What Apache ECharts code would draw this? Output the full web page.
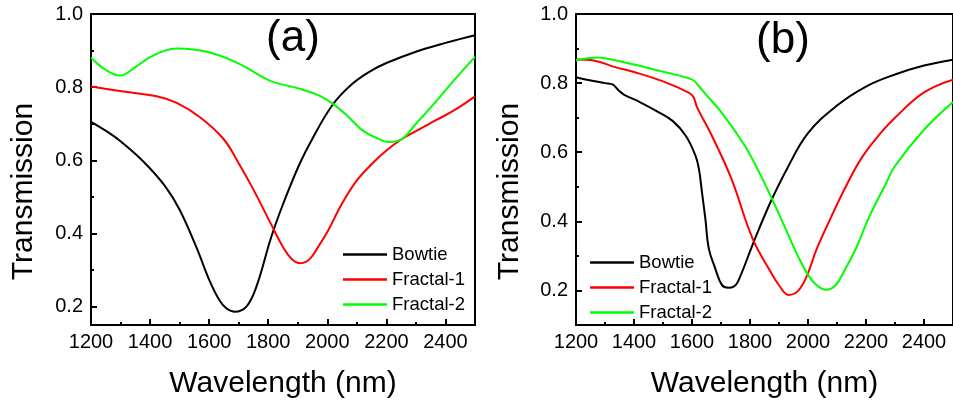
<!DOCTYPE html>
<html><head><meta charset="utf-8">
<script src="https://cdn.jsdelivr.net/npm/echarts@6/dist/echarts.min.js"></script>
<style>html,body{margin:0;padding:0;background:#fff}#c{width:953px;height:404px}</style>
</head><body><div id="c"></div>
<script>
const seriesNames = ['Bowtie', 'Fractal-1', 'Fractal-2'];
const seriesColors = ['#000000', '#ff0000', '#00ff00'];
const xTicks = [1200, 1400, 1600, 1800, 2000, 2200, 2400];
const xMinorTicks = [1300, 1500, 1700, 1900, 2100, 2300];
const yTicks = [0.2, 0.4, 0.6, 0.8, 1.0];
const yMinorTicks = [0.3, 0.5, 0.7, 0.9];
const panelLabels = ['(a)', '(b)'];
const xTitle = 'Wavelength (nm)';
const yTitle = 'Transmission';

// Panel (a)
const bowtieA = [[1200,0.705],[1265,0.673],[1300,0.652],[1378,0.596],[1450,0.53],[1500,0.465],[1557,0.362],[1602,0.27],[1636,0.216],[1659,0.195],[1687,0.186],[1726,0.20],[1760,0.255],[1810,0.39],[1850,0.48],[1906,0.59],[1950,0.66],[2018,0.752],[2080,0.806],[2142,0.842],[2200,0.866],[2300,0.897],[2400,0.921],[2500,0.942]];
const fractal1A = [[1200,0.802],[1310,0.788],[1422,0.775],[1490,0.757],[1569,0.718],[1648,0.659],[1698,0.595],[1750,0.52],[1810,0.425],[1850,0.363],[1880,0.33],[1910,0.319],[1940,0.33],[1970,0.365],[2000,0.404],[2050,0.482],[2100,0.545],[2153,0.592],[2200,0.627],[2250,0.657],[2300,0.68],[2366,0.709],[2430,0.737],[2500,0.775]];
const fractal2A = [[1200,0.881],[1250,0.847],[1299,0.832],[1350,0.855],[1400,0.882],[1450,0.900],[1490,0.906],[1603,0.895],[1704,0.863],[1805,0.818],[1900,0.797],[1973,0.777],[2018,0.755],[2070,0.72],[2119,0.682],[2170,0.66],[2209,0.65],[2254,0.659],[2300,0.70],[2366,0.759],[2430,0.82],[2500,0.883]];

// Panel (b)
const bowtieB = [[1200,0.817],[1260,0.806],[1300,0.80],[1326,0.796],[1349,0.777],[1365,0.767],[1420,0.745],[1478,0.719],[1534,0.69],[1579,0.647],[1612,0.59],[1624,0.551],[1635,0.48],[1646,0.408],[1658,0.321],[1680,0.264],[1703,0.216],[1725,0.208],[1745,0.212],[1759,0.226],[1815,0.345],[1871,0.456],[1927,0.551],[2000,0.655],[2100,0.735],[2200,0.79],[2300,0.825],[2400,0.851],[2500,0.868]];
const fractal1B = [[1200,0.868],[1264,0.865],[1332,0.847],[1400,0.832],[1500,0.805],[1590,0.772],[1605,0.76],[1618,0.729],[1669,0.647],[1736,0.523],[1809,0.35],[1871,0.254],[1900,0.215],[1933,0.187],[1965,0.198],[1995,0.24],[2030,0.32],[2073,0.40],[2130,0.50],[2186,0.585],[2250,0.655],[2300,0.70],[2400,0.773],[2500,0.81]];
const fractal2B = [[1200,0.866],[1275,0.874],[1300,0.872],[1400,0.854],[1500,0.833],[1601,0.81],[1624,0.791],[1650,0.765],[1703,0.714],[1781,0.62],[1826,0.551],[1873,0.47],[1927,0.37],[1965,0.30],[2000,0.245],[2030,0.215],[2062,0.202],[2095,0.215],[2130,0.264],[2170,0.33],[2208,0.408],[2265,0.503],[2300,0.56],[2400,0.665],[2500,0.745]];

const panels = [
  {left: 91, width: 384, yMin: 0.15, data: [bowtieA, fractal1A, fractal2A], legendLeft: 343, legendTop: 245, labelX: 293, labelY: 39, yTitleX: 24},
  {left: 576, width: 386, yMin: 0.1, data: [bowtieB, fractal1B, fractal2B], legendLeft: 590, legendTop: 253, labelX: 783, labelY: 41, yTitleX: 510}
];

const FONT = "'Liberation Sans', Arial, sans-serif";
const grid = [], xAxis = [], yAxis = [], series = [], legend = [], graphic = [];

panels.forEach((p, i) => {
  grid.push({left: p.left, top: 14, width: p.width, height: 313, show: true, borderColor: '#000', borderWidth: 2, backgroundColor: 'transparent', containLabel: false});
  xAxis.push({
    type: 'value', gridIndex: i, min: 1200, max: 2500, position: 'bottom',
    name: xTitle, nameLocation: 'middle', nameGap: 44,
    nameTextStyle: {fontFamily: FONT, fontSize: 30, color: '#000'},
    axisLine: {show: true, onZero: false, lineStyle: {color: '#000', width: 2}},
    axisTick: {show: true, inside: true, length: 6, lineStyle: {color: '#000', width: 2}, customValues: xTicks},
    axisLabel: {show: true, margin: 7, fontFamily: FONT, fontSize: 20, color: '#000', customValues: xTicks, formatter: v => String(Math.round(v))},
    splitLine: {show: false}
  });
  xAxis.push({
    type: 'value', gridIndex: i, min: 1200, max: 2500, position: 'bottom',
    axisLine: {show: false},
    axisTick: {show: true, inside: true, length: 3, lineStyle: {color: '#000', width: 2}, customValues: xMinorTicks},
    axisLabel: {show: false}, splitLine: {show: false}
  });
  yAxis.push({
    type: 'value', gridIndex: i, min: p.yMin, max: 1.0, position: 'left',
    axisLine: {show: true, onZero: false, lineStyle: {color: '#000', width: 2}},
    axisTick: {show: true, inside: true, length: 6, lineStyle: {color: '#000', width: 2}, customValues: yTicks},
    axisLabel: {show: true, margin: 8, fontFamily: FONT, fontSize: 20, color: '#000', customValues: yTicks, formatter: v => Number(v).toFixed(1)},
    splitLine: {show: false}
  });
  yAxis.push({
    type: 'value', gridIndex: i, min: p.yMin, max: 1.0, position: 'left',
    axisLine: {show: false},
    axisTick: {show: true, inside: true, length: 3, lineStyle: {color: '#000', width: 2}, customValues: yMinorTicks},
    axisLabel: {show: false}, splitLine: {show: false}
  });
  p.data.forEach((d, k) => {
    series.push({
      name: seriesNames[k], type: 'line', xAxisIndex: i * 2, yAxisIndex: i * 2,
      data: d, smooth: 0.4, symbol: 'none', clip: true,
      lineStyle: {color: seriesColors[k], width: 2}, itemStyle: {color: seriesColors[k]},
      emphasis: {disabled: true}, silent: true
    });
  });
  legend.push({
    left: p.legendLeft, top: p.legendTop, orient: 'vertical', padding: 0,
    icon: 'rect', itemWidth: 44, itemHeight: 2.5, itemGap: 6,
    data: seriesNames.map(n => ({name: n})),
    textStyle: {fontFamily: FONT, fontSize: 18.5, color: '#000', lineHeight: 18},
    selectedMode: false
  });
  graphic.push({
    type: 'text', x: p.yTitleX, y: 191.5, rotation: Math.PI / 2,
    style: {text: yTitle, font: '30px ' + FONT, fill: '#000', align: 'center', verticalAlign: 'middle'}
  });
  graphic.push({
    type: 'text', x: p.labelX, y: p.labelY,
    style: {text: panelLabels[i], font: '44px ' + FONT, fill: '#000', align: 'center', verticalAlign: 'middle'}
  });
});

const chart = echarts.init(document.getElementById('c'), null, {renderer: 'canvas'});
chart.setOption({
  animation: false, backgroundColor: '#fff',
  grid, xAxis, yAxis, series, legend, graphic
});
</script>
</body></html>
